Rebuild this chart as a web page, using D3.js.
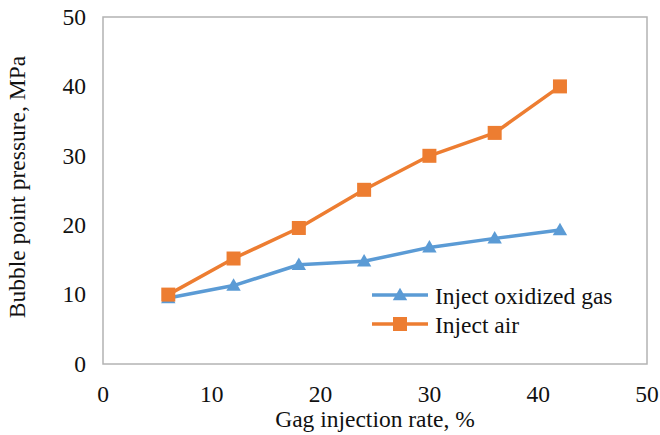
<!DOCTYPE html>
<html lang="en">
  <head>
    <meta charset="utf-8">
    <title>Bubble point pressure</title>
    <script src="https://cdn.jsdelivr.net/npm/d3@7"></script>
    <style>
      body { margin: 0; background: #fff; }
      #chart { position: relative; width: 660px; height: 435px; overflow: hidden; }
      #chart svg { position: absolute; left: 0; top: 0; }
      .lbl {
        position: absolute; white-space: nowrap;
        font-family: "Liberation Serif", "Times New Roman", serif;
        font-size: 23.5px; line-height: 23.5px; color: #111;
      }
    </style>
  </head>
  <body>
    <div id="chart"></div>
    <script type="text/javascript">

      // data
      var injectionRate = [6, 12, 18, 24, 30, 36, 42];
      var oxidizedGas   = [9.5, 11.3, 14.3, 14.8, 16.8, 18.1, 19.3];
      var air           = [10.0, 15.2, 19.6, 25.1, 30.0, 33.3, 40.0];
      var xTicks = [0, 10, 20, 30, 40, 50];
      var yTicks = [0, 10, 20, 30, 40, 50];
      var seriesNames = ["Inject oxidized gas", "Inject air"];

      var W = 660, H = 435;
      var m = { left: 103, right: 13, top: 17, bottom: 71 };

      var chart = d3.select("#chart");
      var svg = chart.append("svg")
        .attr("width", W).attr("height", H);

      var x = d3.scaleLinear().domain([0, 50]).range([m.left, W - m.right]);
      var y = d3.scaleLinear().domain([0, 50]).range([H - m.bottom, m.top]);

      // labels are html divs placed with the scales
      function label(txt, left, top, transform) {
        return chart.append("div").attr("class", "lbl")
          .style("left", left + "px").style("top", top + "px")
          .style("transform", transform || null)
          .text(txt);
      }

      // plot frame
      svg.append("rect")
        .attr("x", x(0)).attr("y", y(50))
        .attr("width", x(50) - x(0)).attr("height", y(0) - y(50))
        .attr("fill", "none").attr("stroke", "#b3b3b3").attr("stroke-width", 1.5);

      xTicks.forEach(function(t) {
        label(t, x(t), 383, "translateX(-50%)");
      });
      yTicks.forEach(function(t) {
        label(t, x(0) - 17, y(t) - 11.3, "translateX(-100%)");
      });

      label("Gag injection rate, %", (x(0) + x(50)) / 2, 408, "translateX(-50%)");
      label("Bubble point pressure, MPa", 17.6, 186.5,
            "translate(-50%,-50%) rotate(-90deg)");

      var blue = "#5b9bd5", orange = "#ed7d31";
      var line = d3.line()
        .x(function(d) { return x(d[0]); })
        .y(function(d) { return y(d[1]); });

      var triangle = d3.symbol().type(d3.symbolTriangle).size(90);

      function drawSeries(vals, color, marker) {
        var pts = injectionRate.map(function(r, i) { return [r, vals[i]]; });
        svg.append("path").attr("d", line(pts))
          .attr("fill", "none").attr("stroke", color).attr("stroke-width", 3.5)
          .attr("stroke-linejoin", "round");
        pts.forEach(function(p) {
          if (marker == "square") {
            svg.append("rect")
              .attr("x", x(p[0]) - 7).attr("y", y(p[1]) - 7)
              .attr("width", 14).attr("height", 14).attr("fill", color);
          } else {
            svg.append("path").attr("d", triangle)
              .attr("transform", "translate(" + x(p[0]) + "," + (y(p[1]) + 1) + ")")
              .attr("fill", color);
          }
        });
      }

      drawSeries(oxidizedGas, blue, "triangle");
      drawSeries(air, orange, "square");

      // legend
      [[seriesNames[0], blue, "triangle", 295], [seriesNames[1], orange, "square", 324]].forEach(function(s) {
        svg.append("line")
          .attr("x1", 372).attr("x2", 428).attr("y1", s[3]).attr("y2", s[3])
          .attr("stroke", s[1]).attr("stroke-width", 3.5);
        if (s[2] == "square") {
          svg.append("rect").attr("x", 393).attr("y", s[3] - 7)
            .attr("width", 14).attr("height", 14).attr("fill", s[1]);
        } else {
          svg.append("path").attr("d", triangle)
            .attr("transform", "translate(400," + (s[3] + 1) + ")").attr("fill", s[1]);
        }
        label(s[0], 435, s[3] - 9.7);
      });

    </script>
  </body>
</html>
